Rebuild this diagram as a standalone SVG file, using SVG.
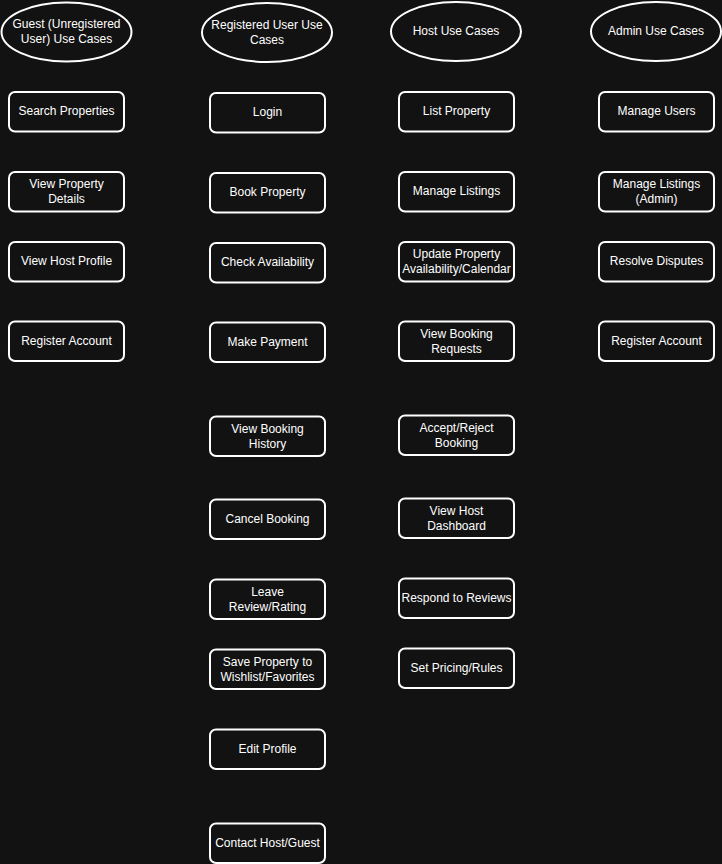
<svg xmlns="http://www.w3.org/2000/svg" width="722" height="864" viewBox="0 0 722 864">
<style>
.n{fill:#121212;stroke:#ffffff;stroke-width:2}
.t{fill:#ffffff;font-family:"Liberation Sans",Arial,sans-serif;font-size:12px;text-anchor:middle}
</style>
<rect x="0" y="0" width="722" height="864" fill="#121212"/>
<g id="connectors"></g>
<g id="guest-uc"><ellipse class="n" cx="66.5" cy="32" rx="65" ry="29.5"/><text class="t" x="66.5" y="28">Guest (Unregistered</text><text class="t" x="66.5" y="43">User) Use Cases</text></g>
<g id="reg-uc"><ellipse class="n" cx="267" cy="32.5" rx="65" ry="29.5"/><text class="t" x="267" y="29">Registered User Use</text><text class="t" x="267" y="44">Cases</text></g>
<g id="host-uc"><ellipse class="n" cx="456" cy="31.5" rx="65" ry="29.5"/><text class="t" x="456" y="35">Host Use Cases</text></g>
<g id="admin-uc"><ellipse class="n" cx="656" cy="31.5" rx="65" ry="29.5"/><text class="t" x="656" y="35">Admin Use Cases</text></g>

<g id="g1"><rect class="n" x="9" y="92" width="115" height="39.5" rx="6"/><text class="t" x="66.5" y="115">Search Properties</text></g>
<g id="g2"><rect class="n" x="9" y="172" width="115" height="39.5" rx="6"/><text class="t" x="66.5" y="188">View Property</text><text class="t" x="66.5" y="203">Details</text></g>
<g id="g3"><rect class="n" x="9" y="242" width="115" height="39.5" rx="6"/><text class="t" x="66.5" y="265">View Host Profile</text></g>
<g id="g4"><rect class="n" x="9" y="321.5" width="115" height="39.5" rx="6"/><text class="t" x="66.5" y="345">Register Account</text></g>

<g id="r1"><rect class="n" x="210" y="93" width="115" height="39.5" rx="6"/><text class="t" x="267.5" y="116">Login</text></g>
<g id="r2"><rect class="n" x="210" y="173" width="115" height="39.5" rx="6"/><text class="t" x="267.5" y="196">Book Property</text></g>
<g id="r3"><rect class="n" x="210" y="243" width="115" height="39.5" rx="6"/><text class="t" x="267.5" y="266">Check Availability</text></g>
<g id="r4"><rect class="n" x="210" y="322.5" width="115" height="39.5" rx="6"/><text class="t" x="267.5" y="346">Make Payment</text></g>
<g id="r5"><rect class="n" x="210" y="416.5" width="115" height="39.5" rx="6"/><text class="t" x="267.5" y="433">View Booking</text><text class="t" x="267.5" y="448">History</text></g>
<g id="r6"><rect class="n" x="210" y="499.5" width="115" height="39.5" rx="6"/><text class="t" x="267.5" y="523">Cancel Booking</text></g>
<g id="r7"><rect class="n" x="210" y="579.5" width="115" height="39.5" rx="6"/><text class="t" x="267.5" y="596">Leave</text><text class="t" x="267.5" y="611">Review/Rating</text></g>
<g id="r8"><rect class="n" x="210" y="649.5" width="115" height="39.5" rx="6"/><text class="t" x="267.5" y="666">Save Property to</text><text class="t" x="267.5" y="681">Wishlist/Favorites</text></g>
<g id="r9"><rect class="n" x="210" y="729.5" width="115" height="39.5" rx="6"/><text class="t" x="267.5" y="753">Edit Profile</text></g>
<g id="r10"><rect class="n" x="210" y="823.5" width="115" height="39.5" rx="6"/><text class="t" x="267.5" y="847">Contact Host/Guest</text></g>

<g id="h1"><rect class="n" x="399" y="92" width="115" height="39.5" rx="6"/><text class="t" x="456.5" y="115">List Property</text></g>
<g id="h2"><rect class="n" x="399" y="172" width="115" height="39.5" rx="6"/><text class="t" x="456.5" y="195">Manage Listings</text></g>
<g id="h3"><rect class="n" x="399" y="242" width="115" height="39.5" rx="6"/><text class="t" x="456.5" y="258">Update Property</text><text class="t" x="456.5" y="273">Availability/Calendar</text></g>
<g id="h4"><rect class="n" x="399" y="321.5" width="115" height="39.5" rx="6"/><text class="t" x="456.5" y="338">View Booking</text><text class="t" x="456.5" y="353">Requests</text></g>
<g id="h5"><rect class="n" x="399" y="415.5" width="115" height="39.5" rx="6"/><text class="t" x="456.5" y="432">Accept/Reject</text><text class="t" x="456.5" y="447">Booking</text></g>
<g id="h6"><rect class="n" x="399" y="498.5" width="115" height="39.5" rx="6"/><text class="t" x="456.5" y="515">View Host</text><text class="t" x="456.5" y="530">Dashboard</text></g>
<g id="h7"><rect class="n" x="399" y="578.5" width="115" height="39.5" rx="6"/><text class="t" x="456.5" y="602">Respond to Reviews</text></g>
<g id="h8"><rect class="n" x="399" y="648.5" width="115" height="39.5" rx="6"/><text class="t" x="456.5" y="672">Set Pricing/Rules</text></g>

<g id="a1"><rect class="n" x="599" y="92" width="115" height="39.5" rx="6"/><text class="t" x="656.5" y="115">Manage Users</text></g>
<g id="a2"><rect class="n" x="599" y="172" width="115" height="39.5" rx="6"/><text class="t" x="656.5" y="188">Manage Listings</text><text class="t" x="656.5" y="203">(Admin)</text></g>
<g id="a3"><rect class="n" x="599" y="242" width="115" height="39.5" rx="6"/><text class="t" x="656.5" y="265">Resolve Disputes</text></g>
<g id="a4"><rect class="n" x="599" y="321.5" width="115" height="39.5" rx="6"/><text class="t" x="656.5" y="345">Register Account</text></g>
</svg>
